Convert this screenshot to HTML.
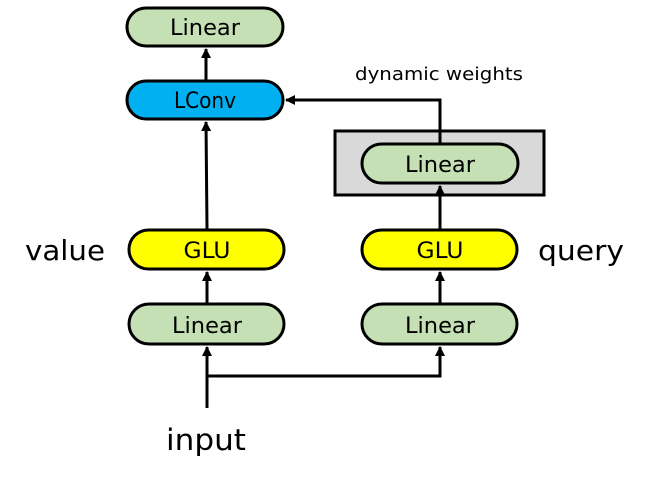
<!DOCTYPE html>
<html><head><meta charset="utf-8"><style>
html,body{margin:0;padding:0;background:#fff;width:648px;height:484px;overflow:hidden}
svg text{font-family:"DejaVu Sans","Liberation Sans",sans-serif}
</style></head><body>
<svg width="648" height="484" viewBox="0 0 648 484" xmlns="http://www.w3.org/2000/svg">
<defs>
<marker id="a" markerWidth="10" markerHeight="10" refX="9" refY="5" orient="auto" markerUnits="userSpaceOnUse">
<path d="M0,0 L10,5 L0,10 z" fill="#000"/></marker>
</defs>
<rect x="335" y="131" width="209" height="64" fill="#d9d9d9" stroke="#000" stroke-width="3"/>
<g stroke="#000" stroke-width="3" fill="none">
<line x1="206" y1="80" x2="206" y2="49" marker-end="url(#a)"/>
<line x1="207" y1="229" x2="206" y2="122" marker-end="url(#a)"/>
<polyline points="440,144 440,100 286,100" marker-end="url(#a)"/>
<line x1="440" y1="229" x2="440" y2="186" marker-end="url(#a)"/>
<line x1="207" y1="303" x2="207" y2="272" marker-end="url(#a)"/>
<line x1="440" y1="303" x2="440" y2="272" marker-end="url(#a)"/>
<line x1="207" y1="408" x2="207" y2="347" marker-end="url(#a)"/>
<polyline points="207,376 440,376 440,347" marker-end="url(#a)"/>
</g>
<g stroke="#000" stroke-width="3">
<rect x="127" y="8" width="156" height="38" rx="19" fill="#c5e0b4"/>
<rect x="127" y="81" width="156" height="38" rx="19" fill="#00b0f0"/>
<rect x="362" y="144" width="156" height="39" rx="19.5" fill="#c5e0b4"/>
<rect x="129" y="230" width="155" height="39" rx="19.5" fill="#ffff00"/>
<rect x="362" y="230" width="155" height="39" rx="19.5" fill="#ffff00"/>
<rect x="129" y="304" width="155" height="40" rx="20" fill="#c5e0b4"/>
<rect x="362" y="304" width="155" height="40" rx="20" fill="#c5e0b4"/>
</g>
<g font-size="22" text-anchor="middle" fill="#000">
<text x="205" y="35" textLength="70" lengthAdjust="spacingAndGlyphs">Linear</text>
<text x="205" y="108" textLength="62" lengthAdjust="spacingAndGlyphs">LConv</text>
<text x="440" y="172" textLength="70" lengthAdjust="spacingAndGlyphs">Linear</text>
<text x="207" y="258" textLength="47" lengthAdjust="spacingAndGlyphs">GLU</text>
<text x="440" y="258" textLength="47" lengthAdjust="spacingAndGlyphs">GLU</text>
<text x="207" y="333" textLength="70" lengthAdjust="spacingAndGlyphs">Linear</text>
<text x="440" y="333" textLength="70" lengthAdjust="spacingAndGlyphs">Linear</text>
</g>
<text x="439" y="80" font-size="18" text-anchor="middle" textLength="168" lengthAdjust="spacingAndGlyphs">dynamic weights</text>
<text x="65" y="260" font-size="28" text-anchor="middle" textLength="80" lengthAdjust="spacingAndGlyphs">value</text>
<text x="581" y="260" font-size="28" text-anchor="middle" textLength="86" lengthAdjust="spacingAndGlyphs">query</text>
<text x="206" y="450" font-size="29" text-anchor="middle" textLength="80" lengthAdjust="spacingAndGlyphs">input</text>
</svg>
</body></html>
